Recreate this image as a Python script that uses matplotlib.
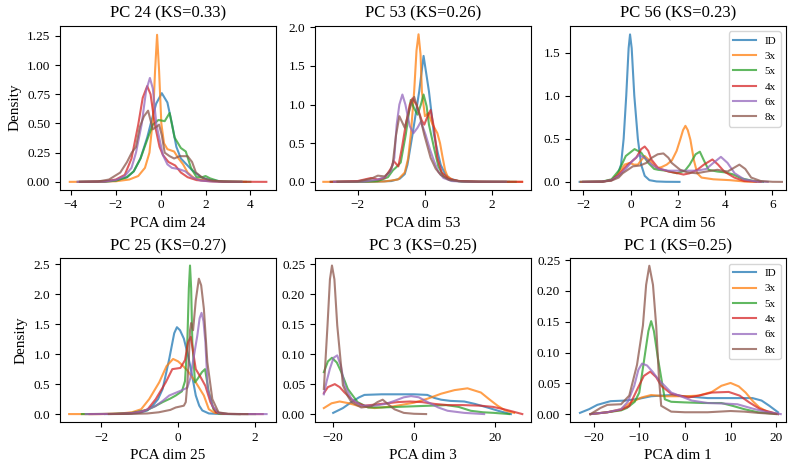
import matplotlib
matplotlib.use("Agg")
import matplotlib.pyplot as plt

plt.rcParams['font.family'] = ['Liberation Serif', 'DejaVu Serif']
plt.rcParams['axes.unicode_minus'] = True

series = ["ID", "3x", "5x", "4x", "6x", "8x"]
colors = ["#1f77b4", "#ff7f0e", "#2ca02c", "#d62728", "#9467bd", "#8c564b"]

# density curves: series -> (x points, density points)
pc24 = {
    "ID": ([-3.7, -2.5, -2.0, -1.5, -1.2, -0.9, -0.6, -0.4, -0.2, 0.05, 0.3, 0.5, 0.7, 0.9, 1.1, 1.4, 1.8, 2.2, 2.8, 3.6],
           [0, 0.002, 0.01, 0.04, 0.09, 0.2, 0.38, 0.53, 0.67, 0.76, 0.68, 0.5, 0.3, 0.2, 0.16, 0.1, 0.04, 0.015, 0.003, 0]),
    "3x": ([-4.05, -3, -2, -1.4, -1.0, -0.7, -0.5, -0.34, -0.25, -0.16, -0.07, 0.03, 0.15, 0.3, 0.45, 0.6, 0.8, 1.0, 1.2, 1.5, 2.0, 2.6, 3.8],
           [0, 0.001, 0.005, 0.02, 0.05, 0.12, 0.25, 0.55, 0.95, 1.26, 0.95, 0.5, 0.33, 0.28, 0.27, 0.26, 0.2, 0.15, 0.08, 0.03, 0.01, 0.003, 0]),
    "5x": ([-3.6, -2.5, -2.0, -1.5, -1.2, -0.9, -0.6, -0.35, -0.1, 0.18, 0.4, 0.62, 0.9, 1.12, 1.35, 1.6, 1.85, 2.0, 2.2, 2.6, 3.2, 4.0],
           [0, 0.002, 0.01, 0.04, 0.09, 0.2, 0.36, 0.49, 0.53, 0.52, 0.59, 0.38, 0.29, 0.26, 0.12, 0.04, 0.04, 0.05, 0.03, 0.005, 0.001, 0]),
    "4x": ([-3.6, -2.5, -2.0, -1.6, -1.3, -1.0, -0.8, -0.6, -0.45, -0.26, -0.05, 0.1, 0.35, 0.65, 0.9, 1.2, 1.6, 2.2, 3.0, 4.71],
           [0, 0.004, 0.02, 0.06, 0.2, 0.49, 0.72, 0.82, 0.75, 0.49, 0.3, 0.23, 0.17, 0.14, 0.08, 0.04, 0.015, 0.005, 0.001, 0]),
    "6x": ([-3.7, -2.5, -2.0, -1.6, -1.3, -1.1, -0.85, -0.65, -0.48, -0.35, -0.19, 0.1, 0.3, 0.5, 0.8, 1.1, 1.4, 1.8, 2.4, 3.6],
           [0, 0.003, 0.015, 0.05, 0.12, 0.25, 0.49, 0.78, 0.89, 0.8, 0.49, 0.23, 0.15, 0.12, 0.11, 0.09, 0.04, 0.01, 0.002, 0]),
    "8x": ([-3.6, -2.8, -2.3, -1.8, -1.5, -1.29, -1.1, -0.93, -0.75, -0.56, -0.35, -0.2, -0.07, 0.05, 0.18, 0.4, 0.6, 0.84, 1.2, 1.4, 1.57, 1.9, 2.3, 2.8, 3.6],
           [0, 0.003, 0.02, 0.08, 0.17, 0.25, 0.3, 0.47, 0.56, 0.61, 0.45, 0.47, 0.49, 0.4, 0.25, 0.22, 0.2, 0.22, 0.22, 0.17, 0.08, 0.03, 0.01, 0.002, 0]),
}

pc53 = {
    "ID": ([-2.6, -1.5, -1.0, -0.75, -0.6, -0.52, -0.37, -0.17, -0.04, 0.12, 0.27, 0.38, 0.47, 0.6, 0.75, 1.0, 1.5, 2.5],
           [0, 0.002, 0.01, 0.04, 0.1, 0.22, 0.61, 1.17, 1.63, 1.17, 0.61, 0.38, 0.22, 0.1, 0.04, 0.01, 0.001, 0]),
    "3x": ([-3.02, -2, -1.2, -0.8, -0.6, -0.5, -0.42, -0.32, -0.25, -0.19, -0.13, -0.09, 0.0, 0.1, 0.22, 0.37, 0.45, 0.52, 0.6, 0.67, 0.85, 1.2, 2.0, 2.89],
           [0, 0.0, 0.005, 0.03, 0.12, 0.3, 0.61, 1.17, 1.7, 1.91, 1.65, 1.17, 0.85, 0.89, 0.75, 0.63, 0.5, 0.33, 0.15, 0.07, 0.02, 0.003, 0, 0]),
    "5x": ([-2.8, -1.8, -1.4, -1.1, -0.95, -0.85, -0.72, -0.57, -0.42, -0.32, -0.22, -0.12, -0.04, 0.05, 0.12, 0.27, 0.4, 0.55, 0.75, 1.1, 1.8, 2.7],
           [0, 0.002, 0.01, 0.06, 0.15, 0.19, 0.25, 0.61, 1.06, 0.95, 0.87, 1.0, 1.13, 0.98, 0.74, 0.44, 0.2, 0.07, 0.02, 0.003, 0, 0]),
    "4x": ([-2.8, -2.0, -1.6, -1.4, -1.2, -1.0, -0.93, -0.79, -0.68, -0.57, -0.45, -0.37, -0.25, -0.1, -0.02, 0.08, 0.17, 0.27, 0.37, 0.5, 0.7, 1.0, 1.6, 2.89],
           [0, 0.01, 0.05, 0.03, 0.05, 0.18, 0.27, 0.2, 0.45, 0.74, 1.0, 1.08, 1.0, 0.8, 0.74, 0.85, 0.93, 0.7, 0.31, 0.12, 0.04, 0.01, 0.002, 0]),
    "6x": ([-2.7, -1.8, -1.4, -1.2, -1.01, -0.91, -0.84, -0.76, -0.67, -0.58, -0.45, -0.34, -0.22, -0.12, 0.02, 0.15, 0.27, 0.4, 0.55, 0.8, 1.2, 2.4],
           [0, 0.003, 0.03, 0.06, 0.14, 0.31, 0.74, 1.0, 1.13, 1.0, 0.72, 0.63, 0.7, 0.78, 0.61, 0.42, 0.27, 0.13, 0.05, 0.01, 0.002, 0]),
    "8x": ([-2.6, -2.0, -1.6, -1.4, -1.2, -1.05, -0.96, -0.86, -0.76, -0.6, -0.45, -0.32, -0.15, -0.02, 0.17, 0.32, 0.47, 0.7, 1.0, 1.6, 2.4],
           [0, 0.005, 0.04, 0.08, 0.07, 0.13, 0.22, 0.6, 0.85, 0.7, 0.95, 1.1, 0.85, 0.61, 0.31, 0.17, 0.09, 0.03, 0.01, 0.001, 0]),
}

pc56 = {
    "ID": ([-2.15, -1.2, -0.8, -0.55, -0.4, -0.29, -0.18, -0.08, -0.02, 0.05, 0.16, 0.31, 0.45, 0.6, 0.8, 1.1, 1.5, 2.07],
           [0, 0.003, 0.02, 0.08, 0.2, 0.5, 1.0, 1.55, 1.71, 1.55, 1.0, 0.5, 0.2, 0.07, 0.02, 0.005, 0.001, 0]),
    "3x": ([-2.1, -1.2, -0.8, -0.5, -0.25, -0.04, 0.15, 0.31, 0.45, 0.6, 0.8, 1.1, 1.3, 1.53, 1.75, 1.95, 2.1, 2.22, 2.32, 2.42, 2.53, 2.68, 2.82, 3.0, 3.5, 4.2, 4.8, 5.3],
           [0, 0.003, 0.02, 0.1, 0.2, 0.22, 0.2, 0.2, 0.25, 0.3, 0.25, 0.16, 0.17, 0.2, 0.25, 0.36, 0.49, 0.6, 0.65, 0.6, 0.49, 0.25, 0.1, 0.05, 0.03, 0.02, 0.005, 0]),
    "5x": ([-2.0, -1.2, -0.8, -0.47, -0.2, 0.17, 0.45, 0.75, 1.0, 1.17, 1.5, 1.96, 2.3, 2.5, 2.75, 2.93, 3.1, 3.3, 3.67, 4.0, 4.3, 4.7, 5.2, 5.6],
           [0, 0.003, 0.03, 0.14, 0.3, 0.38, 0.34, 0.22, 0.15, 0.14, 0.13, 0.1, 0.13, 0.2, 0.32, 0.35, 0.25, 0.14, 0.12, 0.11, 0.09, 0.04, 0.01, 0]),
    "4x": ([-2.0, -1.2, -0.8, -0.5, -0.19, 0.24, 0.45, 0.6, 0.75, 0.88, 1.17, 1.6, 2.0, 2.24, 2.5, 2.82, 3.1, 3.46, 3.7, 3.96, 4.39, 4.8, 5.5],
           [0, 0.003, 0.02, 0.08, 0.18, 0.28, 0.38, 0.41, 0.36, 0.26, 0.16, 0.12, 0.1, 0.085, 0.1, 0.14, 0.2, 0.26, 0.2, 0.12, 0.05, 0.01, 0]),
    "6x": ([-2.0, -1.2, -0.8, -0.5, -0.2, 0.1, 0.35, 0.6, 0.9, 1.2, 1.6, 2.0, 2.4, 2.8, 3.2, 3.5, 3.82, 4.1, 4.4, 4.8, 5.3, 5.8],
           [0, 0.003, 0.02, 0.07, 0.15, 0.25, 0.31, 0.28, 0.2, 0.15, 0.13, 0.13, 0.13, 0.13, 0.15, 0.22, 0.29, 0.22, 0.1, 0.03, 0.005, 0]),
    "8x": ([-2.1, -1.2, -0.8, -0.5, -0.33, 0.1, 0.4, 0.67, 0.9, 1.15, 1.39, 1.6, 1.74, 2.1, 2.4, 2.8, 3.2, 3.67, 4.1, 4.35, 4.6, 4.85, 5.1, 5.5, 6.0, 6.4],
           [0, 0.002, 0.015, 0.05, 0.1, 0.18, 0.19, 0.22, 0.28, 0.32, 0.33, 0.28, 0.22, 0.14, 0.11, 0.1, 0.12, 0.14, 0.12, 0.16, 0.2, 0.15, 0.05, 0.01, 0.001, 0]),
}

pc25 = {
    "ID": ([-1.9, -1.3, -1.0, -0.8, -0.66, -0.52, -0.4, -0.23, -0.1, -0.03, 0.05, 0.15, 0.25, 0.33, 0.46, 0.55, 0.63, 0.8, 1.1, 1.6],
           [0, 0.005, 0.02, 0.06, 0.14, 0.25, 0.42, 0.92, 1.35, 1.45, 1.4, 1.26, 1.0, 0.76, 0.31, 0.14, 0.06, 0.01, 0.001, 0]),
    "3x": ([-2.83, -2.0, -1.5, -1.2, -0.96, -0.75, -0.49, -0.3, -0.13, 0.0, 0.07, 0.24, 0.46, 0.67, 0.8, 0.95, 1.2, 1.6],
           [0, 0.0, 0.01, 0.03, 0.08, 0.25, 0.53, 0.8, 0.92, 0.88, 0.84, 0.73, 0.53, 0.31, 0.08, 0.02, 0.003, 0]),
    "5x": ([-2.5, -1.7, -1.2, -0.8, -0.6, -0.4, -0.2, -0.06, 0.1, 0.18, 0.24, 0.28, 0.31, 0.34, 0.37, 0.44, 0.52, 0.62, 0.7, 0.8, 0.92, 1.05, 1.3, 2.0],
           [0, 0.003, 0.02, 0.07, 0.13, 0.2, 0.26, 0.31, 0.38, 0.55, 1.2, 2.1, 2.48, 2.1, 1.2, 0.53, 0.6, 0.7, 0.75, 0.36, 0.08, 0.01, 0.001, 0]),
    "4x": ([-2.3, -1.6, -1.2, -0.95, -0.79, -0.58, -0.32, -0.15, 0.06, 0.18, 0.26, 0.33, 0.4, 0.46, 0.6, 0.71, 0.84, 0.98, 1.2, 1.6, 2.2],
           [0, 0.003, 0.015, 0.04, 0.08, 0.25, 0.53, 0.75, 0.77, 0.9, 1.2, 1.29, 1.0, 0.75, 0.6, 0.47, 0.2, 0.03, 0.003, 0, 0]),
    "6x": ([-2.4, -1.6, -1.2, -0.9, -0.6, -0.4, -0.23, 0.07, 0.24, 0.32, 0.37, 0.5, 0.56, 0.61, 0.66, 0.71, 0.77, 0.9, 1.05, 1.3, 1.8, 2.3],
           [0, 0.003, 0.015, 0.05, 0.13, 0.22, 0.31, 0.39, 0.44, 0.6, 0.81, 1.31, 1.6, 1.69, 1.55, 1.2, 0.42, 0.13, 0.02, 0.002, 0, 0]),
    "8x": ([-1.8, -1.2, -0.8, -0.5, -0.2, -0.06, 0.08, 0.15, 0.2, 0.24, 0.28, 0.31, 0.34, 0.39, 0.46, 0.54, 0.6, 0.67, 0.76, 0.89, 1.05, 1.3, 1.8],
           [0, 0.003, 0.01, 0.03, 0.07, 0.11, 0.13, 0.14, 0.2, 0.5, 0.92, 1.4, 1.52, 1.4, 1.9, 2.26, 2.15, 1.76, 0.87, 0.25, 0.03, 0.002, 0]),
}

pc3 = {
    "ID": ([-19.9, -17.5, -15.4, -13.5, -12.2, -8, -4, 0, 3.3, 5, 6.7, 9, 12.4, 15, 18.1, 21, 23.9],
           [0.002, 0.01, 0.02, 0.028, 0.032, 0.033, 0.033, 0.033, 0.032, 0.027, 0.024, 0.022, 0.021, 0.017, 0.011, 0.005, 0.0]),
    "3x": ([-22.2, -20.3, -18.3, -16, -13.9, -9.7, -5, 0, 3.5, 6.7, 10, 13.2, 16.5, 18.5, 20.6, 22.5, 24.7],
           [0.01, 0.018, 0.021, 0.018, 0.014, 0.01, 0.013, 0.019, 0.026, 0.034, 0.04, 0.043, 0.036, 0.025, 0.014, 0.006, 0.002]),
    "5x": ([-22.2, -21.2, -20.2, -19.0, -17.9, -16.3, -13.9, -11.3, -8, -4, 0, 4, 8, 11, 14, 17, 19.7, 23.5],
           [0.07, 0.088, 0.094, 0.086, 0.07, 0.042, 0.02, 0.011, 0.011, 0.012, 0.013, 0.014, 0.015, 0.012, 0.0055, 0.003, 0.002, 0]),
    "4x": ([-22.2, -21.2, -19.5, -18.3, -17.1, -14.6, -12.2, -8, -4, -1, 2, 5, 8.3, 12, 16.4, 19.5, 22.2, 24.5, 26.7],
           [0.035, 0.045, 0.05, 0.045, 0.036, 0.02, 0.014, 0.017, 0.02, 0.021, 0.02, 0.017, 0.015, 0.015, 0.014, 0.012, 0.008, 0.004, 0.0]),
    "6x": ([-22.2, -21.5, -20.7, -19.8, -18.9, -18.0, -17.1, -15.4, -13, -9.7, -7, -4.8, -2.5, -0.7, 1.2, 3.4, 6, 8.3, 12.4, 17.3],
           [0.033, 0.055, 0.076, 0.094, 0.098, 0.08, 0.048, 0.025, 0.014, 0.014, 0.017, 0.022, 0.028, 0.03, 0.028, 0.02, 0.011, 0.0055, 0.002, 0]),
    "8x": ([-22.2, -21.3, -20.7, -20.2, -19.6, -18.9, -17.5, -16.3, -15.4, -13, -10.5, -9, -7.7, -6.3, -4.8, -2.5, 0, 3.0],
           [0.042, 0.148, 0.225, 0.248, 0.225, 0.148, 0.048, 0.03, 0.02, 0.011, 0.013, 0.02, 0.024, 0.016, 0.008, 0.002, 0.0005, 0]),
}

pc1 = {
    "ID": ([-23, -21, -19.2, -16.3, -13, -10, -7.4, -3, 0, 5, 10, 14.8, 16.8, 18.5, 20.4],
           [0.002, 0.008, 0.015, 0.021, 0.022, 0.025, 0.029, 0.031, 0.029, 0.026, 0.026, 0.026, 0.022, 0.0135, 0.003]),
    "3x": ([-20.7, -17, -14, -11.8, -9.5, -7.4, -4.4, 0, 3, 5.9, 8, 10, 11.8, 13.3, 15, 16.3, 18, 19.6],
           [0, 0.003, 0.008, 0.019, 0.027, 0.031, 0.029, 0.029, 0.03, 0.036, 0.046, 0.0506, 0.045, 0.035, 0.02, 0.011, 0.004, 0.001]),
    "5x": ([-20.7, -17, -14, -12.7, -11, -10, -8.9, -8.0, -7.4, -6.8, -5.9, -4.4, -3, 0, 4, 8, 10.4, 13, 16, 20.4],
           [0, 0.003, 0.006, 0.01, 0.02, 0.035, 0.09, 0.135, 0.151, 0.135, 0.09, 0.024, 0.02, 0.019, 0.018, 0.018, 0.0135, 0.008, 0.003, 0]),
    "4x": ([-20.7, -17, -14, -12.2, -10.4, -9, -7.6, -6.3, -5.2, -3, 0.8, 3, 5.9, 9.6, 12, 14.1, 16.5, 20.4],
           [0, 0.003, 0.007, 0.013, 0.041, 0.062, 0.069, 0.06, 0.046, 0.033, 0.027, 0.03, 0.035, 0.036, 0.03, 0.019, 0.008, 0]),
    "6x": ([-20.7, -17, -14, -12.5, -11.1, -10.2, -9.4, -8.3, -7, -5.9, -3, 1.5, 5, 9, 11.5, 14.8, 17.5, 21],
           [0, 0.003, 0.008, 0.02, 0.046, 0.072, 0.082, 0.079, 0.068, 0.057, 0.035, 0.022, 0.018, 0.017, 0.016, 0.009, 0.004, 0]),
    "8x": ([-20.7, -18.5, -17, -14, -12.2, -10.5, -9.2, -8.5, -7.8, -7.0, -6.3, -5.7, -5.2, -3, 0, 5, 10, 13, 16, 20],
           [0, 0.01, 0.015, 0.016, 0.03, 0.08, 0.144, 0.21, 0.241, 0.21, 0.144, 0.06, 0.0135, 0.004, 0.003, 0.003, 0.005, 0.004, 0.002, 0]),
}

panels = [pc24, pc53, pc56, pc25, pc3, pc1]
titles = ["PC 24 (KS=0.33)", "PC 53 (KS=0.26)", "PC 56 (KS=0.23)",
          "PC 25 (KS=0.27)", "PC 3 (KS=0.25)", "PC 1 (KS=0.25)"]
xlabels = ["PCA dim 24", "PCA dim 53", "PCA dim 56",
           "PCA dim 25", "PCA dim 3", "PCA dim 1"]

xlims = [(-4.49, 5.15), (-3.27, 3.16), (-2.56, 6.58),
         (-3.07, 2.55), (-24.4, 28.9), (-25.2, 22.2)]
ylims = [(-0.066, 1.337), (-0.1, 2.02), (-0.089, 1.81),
         (-0.134, 2.6), (-0.0134, 0.26), (-0.013, 0.253)]

fig, axes = plt.subplots(2, 3, figsize=(7.99, 4.69), dpi=100)
fig.subplots_adjust(left=0.075, right=0.984, top=0.945, bottom=0.100,
                    wspace=0.179, hspace=0.42)

for i, ax in enumerate(axes.flat):
    data = panels[i]
    for name, col in zip(series, colors):
        xs, ys = data[name]
        ax.plot(xs, ys, color=col, lw=1.5, alpha=0.75, label=name)
    ax.set_xlim(*xlims[i])
    ax.set_ylim(*ylims[i])
    ax.set_title(titles[i], fontsize=12)
    ax.set_xlabel(xlabels[i], fontsize=11)
    ax.tick_params(labelsize=9.5)
    if i % 3 == 0:
        ax.set_ylabel("Density", fontsize=11)
    if i % 3 == 2:
        ax.legend(loc="upper right", fontsize=8, framealpha=0.8)

fig.savefig("out.png", dpi=100)
